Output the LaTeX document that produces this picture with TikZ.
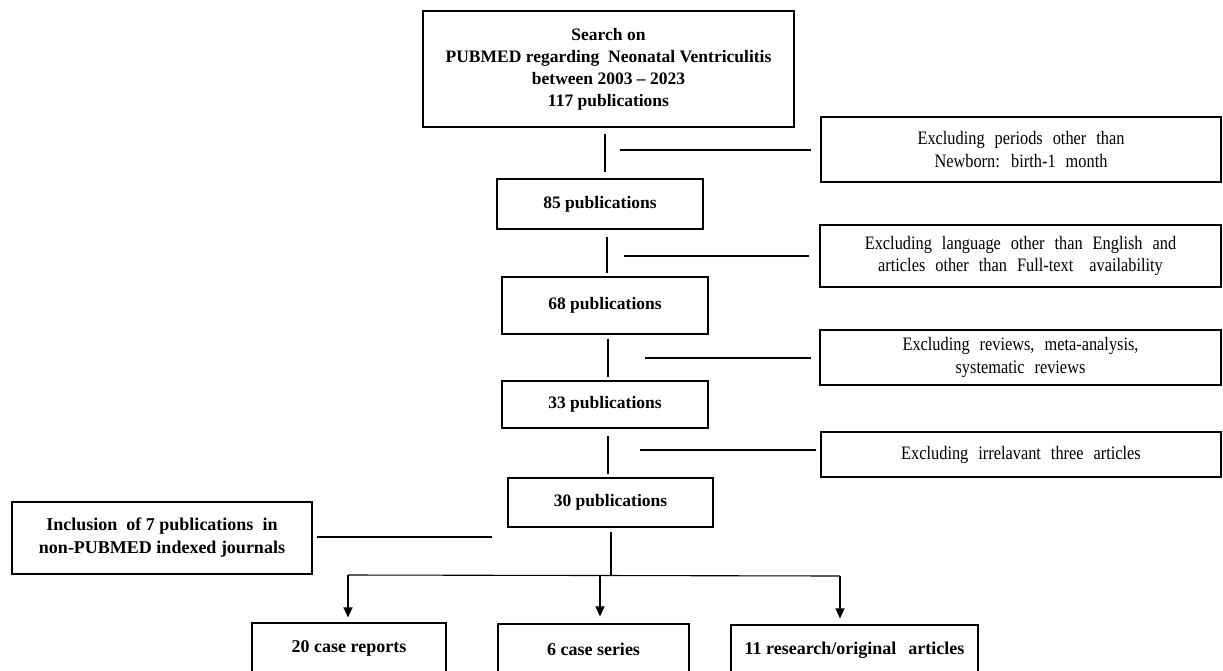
\documentclass[tikz,border=0pt]{standalone}
\usepackage{fontspec}
\setmainfont{Liberation Serif}
\newfontfamily\rfont[FakeStretch=0.86]{Liberation Serif}
\newcommand\widespaces{\spaceskip=10pt plus 2pt\relax}
\usetikzlibrary{arrows.meta}
\tikzset{
  box/.style={draw, line width=1.1pt, inner sep=0pt, align=center},
  conn/.style={line width=1.1pt},
  arr/.style={line width=1.1pt, -{Triangle[length=10pt,width=9pt]}},
  bf/.style={font=\bfseries\fontsize{17.5}{22}\selectfont},
  bb/.style={font=\bfseries\fontsize{18}{23}\selectfont},
  rf/.style={font=\rfont\fontsize{19}{22.5}\selectfont, execute at begin node=\widespaces},
}
\begin{document}
\begin{tikzpicture}[x=1pt,y=-1pt]
\useasboundingbox (0,0) rectangle (1223,670);
\clip (0,0) rectangle (1223,670);
% main column
\node[box,bf,minimum width=371pt,minimum height=116pt] (top) at (608.5,69)
  {Search on\\PUBMED regarding\ \ Neonatal Ventriculitis\\between 2003 – 2023\\117 publications};
\node[box,bf,minimum width=206pt,minimum height=50pt] (b85) at (600,204) {85 publications};
\node[box,bf,minimum width=206pt,minimum height=57pt] (b68) at (605,305.5) {68 publications};
\node[box,bf,minimum width=206pt,minimum height=47pt] (b33) at (605,404.5) {33 publications};
\node[box,bf,minimum width=205pt,minimum height=49pt] (b30) at (610.5,502.5) {30 publications};
% exclusion boxes
\node[box,rf,minimum width=400pt,minimum height=65pt] (ex1) at (1021,149.5)
  {Excluding periods other than\\Newborn: birth-1 month};
\node[box,rf,minimum width=401pt,minimum height=62pt] (ex2) at (1020.5,256)
  {Excluding language other than English and\\articles other than Full-text\hspace{6pt} availability};
\node[box,rf,minimum width=401pt,minimum height=55pt] (ex3) at (1020.5,357.5)
  {Excluding reviews, meta-analysis,\\systematic reviews};
\node[box,rf,minimum width=400pt,minimum height=45pt] (ex4) at (1021,454.5)
  {Excluding irrelavant three articles};
% inclusion
\node[box,bb,minimum width=300pt,minimum height=72pt] (inc) at (162,538)
  {Inclusion\ \ of 7 publications\ \ in\\non-PUBMED\ indexed\ journals};
% results
\node[box,bb,minimum width=194pt,minimum height=50pt] (cr) at (349,648) {20 case reports};
\node[box,bb,minimum width=191pt,minimum height=50pt] (cs) at (593.5,649) {6 case series};
\node[box,bb,minimum width=247pt,minimum height=50pt] (ra) at (854.5,650) {11 research/original\hspace{12pt}articles};
% helper coordinates
\coordinate (x1) at (605,0);
\coordinate (x2) at (607,0);
\coordinate (x3) at (608,0);
\coordinate (x4) at (608,0);
\coordinate (h1) at (620,150);
\coordinate (h2) at (624,256);
\coordinate (h3) at (645,358);
\coordinate (h4) at (640,450);
\coordinate (h5) at (492,537);
\coordinate (br) at (611,575);
\coordinate (bl) at (348,575);
\coordinate (bm) at (600,575.5);
\coordinate (bR) at (840,576);
% vertical connectors
\draw[conn,shorten <=6pt,shorten >=6pt] (top.south -| x1) -- (b85.north -| x1);
\draw[conn,shorten <=7pt,shorten >=3pt] (b85.south -| x2) -- (b68.north -| x2);
\draw[conn,shorten <=4pt,shorten >=3pt] (b68.south -| x3) -- (b33.north -| x3);
\draw[conn,shorten <=7pt,shorten >=3pt] (b33.south -| x4) -- (b30.north -| x4);
% exclusion connectors
\draw[conn,shorten >=9pt] (h1) -- (h1 -| ex1.west);
\draw[conn,shorten >=10pt] (h2) -- (h2 -| ex2.west);
\draw[conn,shorten >=8pt] (h3) -- (h3 -| ex3.west);
\draw[conn,shorten >=4pt] (h4) -- (h4 -| ex4.west);
% inclusion connector
\draw[conn,shorten <=4pt] (inc.east |- h5) -- (h5);
% branch
\draw[conn,shorten <=4pt] (b30.south -| br) -- (br);
\draw[conn] (bl) -- (bm) -- (bR);
\draw[arr,shorten >=5pt] (bl) -- (cr.north -| bl);
\draw[arr,shorten >=7pt] (bm) -- (cs.north -| bm);
\draw[arr,shorten >=6pt] (bR) -- (ra.north -| bR);
\end{tikzpicture}
\end{document}
